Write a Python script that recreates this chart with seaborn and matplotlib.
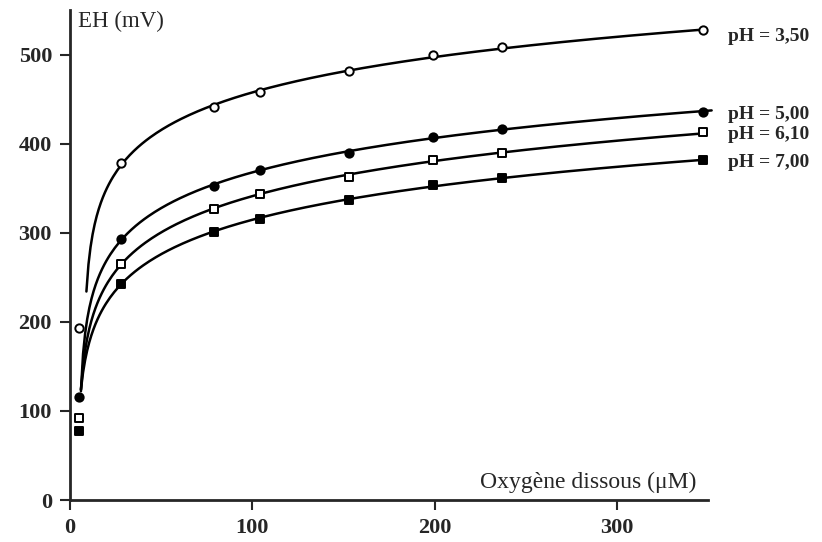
import numpy as np
import pandas as pd
import matplotlib
matplotlib.use('Agg')
import matplotlib.pyplot as plt
import seaborn as sns

sns.set_style('ticks')
plt.rcParams['font.family'] = ['Liberation Serif', 'DejaVu Serif']

# oxygen concentrations (uM) where EH was measured
oxygen = [5, 28, 79, 104, 153, 199, 237, 347]

# EH (mV) for each pH
eh_350 = [193, 378, 441, 458, 481, 499, 509, 527]
eh_500 = [116, 293, 353, 370, 390, 408, 416, 436]
eh_610 = [92, 265, 327, 343, 363, 382, 389, 413]
eh_700 = [78, 243, 301, 315, 337, 354, 361, 382]

labels = ['pH = 3,50', 'pH = 5,00', 'pH = 6,10', 'pH = 7,00']
series = [eh_350, eh_500, eh_610, eh_700]

# where the drawn smooth curves begin / end
curve_start_x = [9, 6, 6, 6]
curve_start_y = [234, 122, 124, 124]
curve_end_x = [347, 352, 347, 347]
label_y = [520, 433, 410, 379]

fig = plt.figure(figsize=(8.22, 5.42), dpi=100)
ax = fig.add_axes([70 / 822, 1 - 500 / 542, 638 / 822, 490 / 542])


def fit_curve(xs, ys, x0, y0):
    # y = a + b*ln(x - c), c chosen on a grid
    best = None
    px = np.array([x0] + xs[1:], dtype=float)
    py = np.array([y0] + ys[1:], dtype=float)
    w = np.ones_like(px)
    w[0] = 4
    for c in np.linspace(-20, x0 - 0.2, 400):
        L = np.log(px - c)
        A = np.vstack([np.ones_like(L), L]).T * w[:, None]
        coef, *_ = np.linalg.lstsq(A, py * w, rcond=None)
        err = np.sum((A @ coef - py * w) ** 2)
        if best is None or err < best[0]:
            best = (err, c, coef)
    return best[1], best[2]


markers = ['o', 'o', 's', 's']
filled = [False, True, False, True]
for ys, lab, x0, y0, x1, ly, m, f in zip(series, labels, curve_start_x, curve_start_y,
                                         curve_end_x, label_y, markers, filled):
    c, (a, b) = fit_curve(oxygen, ys, x0, y0)
    xx = np.linspace(x0, x1, 300)
    curve = pd.DataFrame({'x': xx, 'y': a + b * np.log(xx - c)})
    sns.lineplot(data=curve, x='x', y='y', ax=ax, color='black', lw=1.8, clip_on=False)
    pts = pd.DataFrame({'x': oxygen, 'y': ys})
    sns.scatterplot(data=pts, x='x', y='y', ax=ax, marker=m, s=36,
                    facecolor='black' if f else 'white', edgecolor='black',
                    linewidth=1.4, zorder=5, clip_on=False)
    ax.text(361, ly, lab, fontsize=14, va='center', ha='left', fontweight='bold')

ax.set_xlim(0, 350)
ax.set_ylim(0, 550)
ax.set_xticks([0, 100, 200, 300])
ax.set_yticks([0, 100, 200, 300, 400, 500])
ax.set_xlabel('')
ax.set_ylabel('')
ax.tick_params(axis='both', direction='out', length=7, width=1.5, labelsize=16, pad=6)
for t in ax.get_xticklabels() + ax.get_yticklabels():
    t.set_fontweight('bold')
sns.despine(ax=ax)
ax.spines['left'].set_linewidth(2)
ax.spines['bottom'].set_linewidth(2)

ax.text(4.5, 537, 'EH (mV)', fontsize=16.5, va='center', ha='left')
ax.text(284, 8, 'Oxygène dissous (\u03bcM)', fontsize=17, va='bottom', ha='center')

fig.savefig('out.png', dpi=100)
